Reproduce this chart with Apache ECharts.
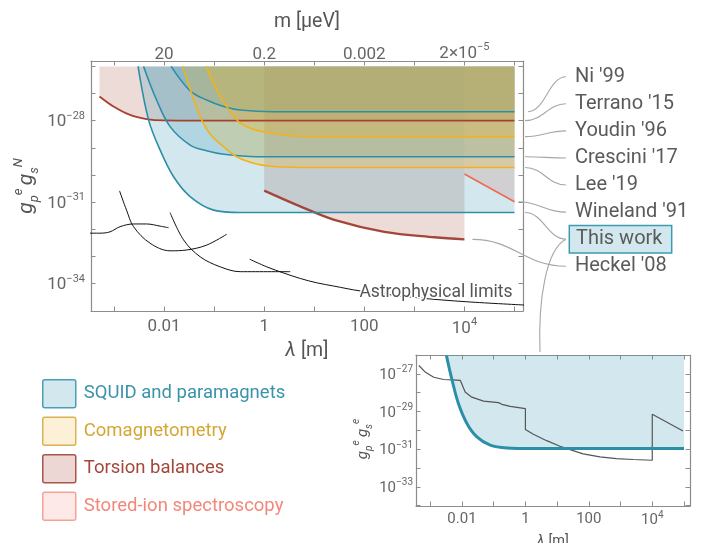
<!DOCTYPE html>
<html><head><meta charset="utf-8">
<script src="https://cdn.jsdelivr.net/npm/echarts@6/dist/echarts.min.js"></script>
<style>html,body{margin:0;padding:0;background:#fff}#c{width:705px;height:543px}</style>
</head><body><div id="c"></div>
<script>
// ---------- data: [log10(lambda / m), log10(coupling)] ----------
const thisWork = [[-2.52,-26.0],[-2.31,-27.97],[-2.08,-29.08],[-1.81,-30.07],[-1.48,-30.80],[-1.01,-31.30],[-0.48,-31.39],[0.5,-31.39],[2.5,-31.39],[5.0,-31.39]];
const crescini17 = [[-2.41,-26.0],[-2.15,-27.24],[-1.88,-28.22],[-1.48,-28.90],[-1.15,-29.11],[-0.81,-29.24],[-0.15,-29.33],[1.5,-29.33],[3.2,-29.33],[5.0,-29.33]];
const ni99 = [[-1.86,-26.0],[-1.48,-26.9],[-1.15,-27.24],[-0.81,-27.48],[-0.48,-27.61],[0.19,-27.67],[1.5,-27.67],[3.2,-27.67],[5.0,-27.67]];
const lee19 = [[-1.63,-26.0],[-1.45,-27.0],[-1.28,-27.85],[-1.08,-28.49],[-0.81,-28.96],[-0.55,-29.33],[-0.15,-29.60],[0.25,-29.70],[0.92,-29.73],[2.5,-29.73],[5.0,-29.73]];
const youdin96 = [[-1.16,-26.0],[-0.95,-26.87],[-0.75,-27.48],[-0.51,-28.04],[-0.28,-28.28],[-0.01,-28.41],[0.39,-28.53],[0.92,-28.59],[2.5,-28.59],[5.0,-28.59]];
const terrano15 = [[-3.29,-27.11],[-3.01,-27.48],[-2.68,-27.79],[-2.35,-27.94],[-2.01,-27.99],[-1.28,-28.0],[1.0,-28.0],[3.0,-28.0],[5.0,-28.0]];
const heckel08 = [[0,-30.58],[0.73,-31.17],[1.40,-31.66],[2.40,-32.10],[3.40,-32.30],[4.0,-32.38]];
const wineland91 = [[4.0,-29.97],[5.0,-30.99]];
const astroA = [[-3.5,-32.15],[-3.28,-32.15],[-3.08,-32.10],[-2.88,-31.91],[-2.61,-31.81],[-2.35,-31.81],[-2.08,-31.89],[-1.91,-31.95]];
const astroB = [[-2.89,-30.59],[-2.75,-31.30],[-2.61,-31.91],[-2.28,-32.52],[-1.88,-32.80],[-1.55,-32.77],[-1.15,-32.59],[-0.75,-32.19]];
const astroC = [[-1.88,-31.39],[-1.61,-32.40],[-1.28,-33.02],[-0.88,-33.39],[-0.48,-33.57],[0.52,-33.57]];
const astroD = [[-0.29,-33.11],[0.05,-33.39],[0.39,-33.62],[0.72,-33.82],[1.05,-33.98],[1.39,-34.10],[1.92,-34.28],[3.05,-34.53],[4.05,-34.68],[5.2,-34.80]];
// inset (electron-electron coupling)
const insetThisWork = [[-2.49,-26.03],[-2.31,-27.35],[-2.11,-28.59],[-1.84,-29.65],[-1.53,-30.35],[-1.11,-30.79],[-0.58,-30.94],[0.2,-30.97],[2.5,-30.97],[5.0,-30.97]];
const insetPrior = [[-3.36,-26.56],[-3.15,-26.92],[-2.89,-27.18],[-2.58,-27.30],[-2.31,-27.32],[-2.05,-27.35],[-1.90,-27.97],[-1.69,-28.24],[-1.32,-28.45],[-0.85,-28.53],[-0.74,-28.62],[-0.48,-28.73],[0,-28.85],[0,-29.96],[0.25,-30.21],[0.67,-30.55],[1.09,-30.85],[1.82,-31.25],[2.35,-31.41],[2.87,-31.50],[3.40,-31.55],[4,-31.59],[4,-29.15],[4.97,-30.04]];

// ---------- ticks ----------
const lamTickValues = [-2,0,2,4];
const lamTickLabels = ['0.01','1','100','10^4'];
const massTickLabels = ['20','0.2','0.002','2×10^−5'];
const gTickValues = [-34,-31,-28];
const gTickLabels = ['10^−34','10^−31','10^−28'];
const insetGTickValues = [-33,-31,-29,-27];
const insetGTickLabels = ['10^−33','10^−31','10^−29','10^−27'];
const decadesX = [-3,-2,-1,0,1,2,3,4,5];
const decadesY = [-34,-33,-32,-31,-30,-29,-28,-27,-26];
const insetDecadesY = [-34,-33,-32,-31,-30,-29,-28,-27];

const labelNames = ["Ni '99","Terrano '15","Youdin '96","Crescini '17","Lee '19","Wineland '91","This work","Heckel '08"];
const groups = ['SQUID and paramagnets','Comagnetometry','Torsion balances','Stored-ion spectroscopy'];

// ---------- styling ----------
const FONT = 'Roboto, "Liberation Sans", sans-serif';
const AX = '#8c8c8c', TXT = '#666';
const TEAL = '#2c8fa8', YEL = '#f2b21c', TOR = '#a8402e', ION = '#f06a50';
const FILL = {teal:'rgba(64,155,180,0.23)', yel:'rgba(240,180,30,0.24)', tor:'rgba(165,75,60,0.2)', ion:'rgba(240,100,80,0.2)'};
const SMOOTH = 0.35;

function toRich(s){ if(s.indexOf('^')<0) return s; const p=s.split('^'); return '{b|'+p[0]+'}{sup|'+p[1]+'}'; }
function richSet(base, sup){ return {b:{fontSize:base,color:TXT,fontFamily:FONT,lineHeight:base+3,verticalAlign:'bottom'}, sup:{fontSize:sup,color:TXT,fontFamily:FONT,lineHeight:sup,verticalAlign:'top'}}; }
function mapFmt(vals, labs){ return v => { const i = vals.indexOf(Math.round(v)); return i<0 ? '' : toRich(labs[i]); }; }

function xAx(grid, pos, min, max, opts){
  return Object.assign({type:'value', gridIndex:grid, position:pos, min, max,
    axisLine:{show:true, onZero:false, lineStyle:{color:AX, width:1.2}},
    axisTick:{show:true, inside:true, length:4.5, customValues:decadesX, lineStyle:{color:AX}},
    axisLabel:{show:false}, splitLine:{show:false}}, opts||{});
}
function yAx(grid, pos, min, max, ticks, opts){
  return Object.assign({type:'value', gridIndex:grid, position:pos, min, max,
    axisLine:{show:true, onZero:false, lineStyle:{color:AX, width:1.2}},
    axisTick:{show:true, inside:true, length:4.5, customValues:ticks, lineStyle:{color:AX}},
    axisLabel:{show:false}, splitLine:{show:false}}, opts||{});
}

function fillS(name, data, color, xi, yi, origin){
  return {type:'line', name, data, xAxisIndex:xi||0, yAxisIndex:yi||0, smooth:SMOOTH,
    symbol:'none', showSymbol:false, lineStyle:{width:0, opacity:0}, areaStyle:{color, opacity:1, origin:origin===undefined?-26:origin},
    z:1, silent:true, animation:false};
}
function lineS(name, data, color, width, xi, yi, smooth, z){
  return {type:'line', name, data, xAxisIndex:xi||0, yAxisIndex:yi||0, smooth:smooth===undefined?SMOOTH:smooth,
    symbol:'none', showSymbol:false, lineStyle:{color, width}, z:z||3, silent:true, animation:false};
}

const legendIcon = 'path://M2,0 H31 Q33,0 33,2 V26 Q33,28 31,28 H2 Q0,28 0,26 V2 Q0,0 2,0 Z';

const option = {
  animation:false,
  backgroundColor:'#fff',
  textStyle:{fontFamily:FONT},
  grid:[{left:91, top:61, width:432, height:250, outerBoundsMode:'none', containLabel:false},
        {left:416, top:355, width:274, height:151, outerBoundsMode:'none', containLabel:false}],
  xAxis:[
    xAx(0,'bottom',-3.46,5.17,{
      axisLabel:{show:true, customValues:lamTickValues, formatter:mapFmt(lamTickValues, lamTickLabels), color:TXT, fontSize:17, fontFamily:FONT, lineHeight:20, margin:6, rich:richSet(17,11)},
      name:'{i|λ} [m]', nameLocation:'middle', nameGap:29,
      nameTextStyle:{color:'#555', fontSize:19.5, fontFamily:FONT, lineHeight:22, rich:{i:{fontStyle:'italic', fontSize:19.5, color:'#555', fontFamily:FONT, lineHeight:22}}}
    }),
    xAx(0,'top',-3.46,5.17,{
      axisLabel:{show:true, customValues:lamTickValues, formatter:mapFmt(lamTickValues, massTickLabels), color:TXT, fontSize:17, fontFamily:FONT, lineHeight:14, margin:-1, rich:richSet(17,11)},
      name:'m [μeV]', nameLocation:'middle', nameGap:28,
      nameTextStyle:{color:'#555', fontSize:19.5, fontFamily:FONT, lineHeight:22}
    }),
    xAx(1,'bottom',-3.45,5.19,{
      axisLabel:{show:true, customValues:lamTickValues, formatter:mapFmt(lamTickValues, lamTickLabels), color:TXT, fontSize:15, fontFamily:FONT, lineHeight:18, margin:4, rich:richSet(15,10)},
      name:'{i|λ} [m]', nameLocation:'middle', nameGap:27,
      nameTextStyle:{color:'#555', fontSize:14.5, fontFamily:FONT, lineHeight:16, rich:{i:{fontStyle:'italic', fontSize:14.5, color:'#555', fontFamily:FONT, lineHeight:16}}}
    }),
    xAx(1,'top',-3.45,5.19)
  ],
  yAxis:[
    yAx(0,'left',-35.02,-25.8,decadesY,{
      axisLabel:{show:true, customValues:gTickValues, formatter:mapFmt(gTickValues, gTickLabels), color:TXT, fontSize:17, fontFamily:FONT, margin:6, rich:richSet(17,11)}
    }),
    yAx(0,'right',-35.02,-25.8,decadesY),
    yAx(1,'left',-34.02,-26.0,insetDecadesY,{
      axisLabel:{show:true, customValues:insetGTickValues, formatter:mapFmt(insetGTickValues, insetGTickLabels), color:TXT, fontSize:15, fontFamily:FONT, margin:3, rich:richSet(15,10)}
    }),
    yAx(1,'right',-34.02,-26.0,insetDecadesY)
  ],
  legend:{
    orient:'vertical', left:42, top:379, itemWidth:33, itemHeight:28, itemGap:8, padding:0, selectedMode:false,
    textStyle:{fontSize:18.5, fontFamily:FONT, padding:[0,0,0,3]},
    data:[
      {name:groups[0], icon:legendIcon, itemStyle:{color:'#d3e8ee', borderColor:'#4a9fb6', borderWidth:1.5}, textStyle:{color:'#3a93ab'}},
      {name:groups[1], icon:legendIcon, itemStyle:{color:'#fcf1d7', borderColor:'#dbb252', borderWidth:1.5}, textStyle:{color:'#d4a735'}},
      {name:groups[2], icon:legendIcon, itemStyle:{color:'#ecd7d4', borderColor:'#a8554a', borderWidth:1.5}, textStyle:{color:'#a4463a'}},
      {name:groups[3], icon:legendIcon, itemStyle:{color:'#fde9e7', borderColor:'#f3a497', borderWidth:1.5}, textStyle:{color:'#f2877a'}}
    ]
  },
  series:[
    fillS(groups[2], terrano15, FILL.tor),
    fillS(groups[2], heckel08, FILL.tor),
    fillS(groups[3], wineland91, FILL.ion),
    fillS(groups[0], thisWork, FILL.teal),
    fillS(groups[0], crescini17, FILL.teal),
    fillS(groups[0], ni99, FILL.teal),
    fillS(groups[1], lee19, FILL.yel),
    fillS(groups[1], youdin96, FILL.yel),
    lineS('Astrophysical limits', astroA, '#111', 1, 0, 0, SMOOTH, 2),
    lineS('Astrophysical limits', astroB, '#111', 1, 0, 0, SMOOTH, 2),
    lineS('Astrophysical limits', astroC, '#111', 1, 0, 0, SMOOTH, 2),
    lineS('Astrophysical limits', astroD, '#111', 1, 0, 0, SMOOTH, 2),
    lineS(groups[2], terrano15, TOR, 1.8),
    lineS(groups[2], heckel08, '#a3473a', 2.4),
    lineS(groups[3], wineland91, ION, 1.6),
    lineS(groups[0], thisWork, TEAL, 1.6),
    lineS(groups[0], crescini17, TEAL, 1.6),
    lineS(groups[0], ni99, TEAL, 1.6),
    lineS(groups[1], lee19, YEL, 1.6),
    lineS(groups[1], youdin96, YEL, 1.6),
    fillS(groups[0], insetThisWork, FILL.teal, 2, 2, 'end'),
    lineS('Previous limits', insetPrior, '#555', 1.2, 2, 2, false, 2),
    lineS(groups[0], insetThisWork, TEAL, 3, 2, 2)
  ]
};

const chart = echarts.init(document.getElementById('c'), null, {renderer:'canvas'});
chart.setOption(option);

// ---------- annotations (positions derived from axes) ----------
const P = pt => chart.convertToPixel({xAxisIndex:0, yAxisIndex:0}, pt);
const PI = pt => chart.convertToPixel({xAxisIndex:2, yAxisIndex:2}, pt);
const last = a => a[a.length-1];
const rightPx = P([5.17, -30])[0];
const anchorCurves = [ni99, terrano15, youdin96, crescini17, lee19, wineland91, thisWork, heckel08];
const labelX = 575, labelTop = 76.7, labelStep = 27.08, leaderEndX = 566;
const g = [];
anchorCurves.forEach((c, i) => {
  const e = P(last(c));
  let x0 = rightPx + 2, y0 = e[1];
  if (c === wineland91) x0 = e[0] + 4;
  if (c === heckel08) x0 = e[0] + 8;
  if (c === ni99) x0 = rightPx + 5;
  const y3 = labelTop + labelStep*i;
  const dx = leaderEndX - x0;
  g.push({type:'bezierCurve', silent:true, z:10, shape:{x1:x0, y1:y0, cpx1:x0+dx*0.45, cpy1:y0, cpx2:x0+dx*0.55, cpy2:y3, x2:leaderEndX, y2:y3},
    style:{stroke:'#a6a6a6', lineWidth:1.1, fill:null}});
  if (labelNames[i] === 'This work') {
    g.push({type:'rect', silent:true, z:11, shape:{x:569.3, y:y3-13.8, width:102.4, height:27.6},
      style:{fill:'#d3e8ee', stroke:'#3c9bb3', lineWidth:1.5}});
    const t = PI([0.46, -26.0]);
    g.push({type:'bezierCurve', silent:true, z:10, shape:{x1:leaderEndX, y1:y3, cpx1:546, cpy1:y3+10, cpx2:538, cpy2:300, x2:t[0], y2:t[1]-3},
      style:{stroke:'#a6a6a6', lineWidth:1.1, fill:null}});
  }
  g.push({type:'text', silent:true, z:12, x:labelNames[i]==='This work'?576:labelX, y:y3,
    style:{text:labelNames[i], fill:'#5a5a5a', fontSize:20, fontFamily:FONT, align:'left', verticalAlign:'middle'}});
});
// astrophysical limits label
const astroPos = P([4.96, -34.33]);
g.push({type:'text', silent:true, z:12, x:astroPos[0], y:astroPos[1],
  style:{text:'Astrophysical limits', fill:'#555', fontSize:17.5, fontFamily:FONT, align:'right', verticalAlign:'middle', stroke:'#fff', lineWidth:3}});
// y-axis titles
const yRich = (gs, ss) => ({
  g:{fontSize:gs, fontStyle:'italic', fontFamily:FONT, fill:'#555', lineHeight:gs+8, verticalAlign:'middle'},
  sub:{fontSize:ss, fontStyle:'italic', fontFamily:FONT, fill:'#555', lineHeight:ss, verticalAlign:'bottom'},
  sup:{fontSize:ss, fontStyle:'italic', fontFamily:FONT, fill:'#555', lineHeight:ss, verticalAlign:'top'}
});
g.push({type:'text', silent:true, z:12, x:27, y:186, rotation:Math.PI/2,
  style:{text:'{g|g}{sub|p}{sup|e} {g|g}{sub|s}{sup|N}', rich:yRich(21,13), align:'center', verticalAlign:'middle'}});
g.push({type:'text', silent:true, z:12, x:363, y:439, rotation:Math.PI/2,
  style:{text:'{g|g}{sub|p}{sup|e} {g|g}{sub|s}{sup|e}', rich:yRich(15,10), align:'center', verticalAlign:'middle'}});
chart.setOption({graphic:g});
</script></body></html>
